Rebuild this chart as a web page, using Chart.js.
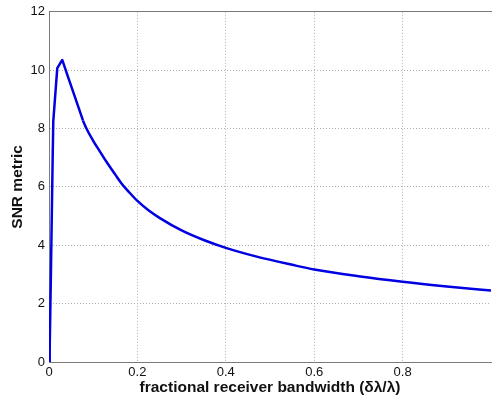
<!DOCTYPE html>
<html>
<head>
<meta charset="utf-8">
<script src="https://cdn.jsdelivr.net/npm/chart.js@4.4.0/dist/chart.umd.min.js"></script>
<style>
  html, body { margin: 0; padding: 0; background: #fff; }
  #wrap { width: 494px; height: 400px; }
</style>
</head>
<body>
<div id="wrap"><canvas id="snrChart" width="494" height="400"></canvas></div>
<script>
// values: sharp rise and peak drawn with straight segments
const riseBandwidth = [0, 0.0016, 0.0045, 0.0083, 0.0097, 0.0187, 0.030, 0.043, 0.058, 0.077];
const riseSnr = [0, 0.5, 3.2, 7.0, 8.25, 10.07, 10.35, 9.77, 9.11, 8.27];
// smooth decaying tail
const tailBandwidth = [0.077, 0.085, 0.10, 0.115, 0.13, 0.15, 0.165, 0.18, 0.20, 0.225, 0.25,
  0.30, 0.35, 0.40, 0.47, 0.55, 0.60, 0.70, 0.80, 0.90, 1.0];
const tailSnr = [8.27, 7.99, 7.58, 7.22, 6.86, 6.42, 6.1, 5.84, 5.52, 5.2, 4.94,
  4.51, 4.18, 3.91, 3.61, 3.33, 3.17, 2.94, 2.75, 2.59, 2.45];
const xTicks = [0, 0.2, 0.4, 0.6, 0.8, 1];
const yTicks = [0, 2, 4, 6, 8, 10, 12];

function toPoints(xs, ys) {
  return xs.map(function(x, i) { return { x: x, y: ys[i] }; });
}

const lineColor = 'rgb(0, 0, 225)';
const tickFont = { family: 'Liberation Sans, Arial, sans-serif', size: 13 };
const titleFont = { family: 'Liberation Sans, Arial, sans-serif', size: 15.5, weight: 'bold' };
const axisGrey = '#7a7a7a';
const gridGrey = '#b0b0b0';

const ctx = document.getElementById('snrChart').getContext('2d');
new Chart(ctx, {
  type: 'scatter',
  data: {
    datasets: [{
      data: toPoints(riseBandwidth, riseSnr),
      showLine: true,
      borderColor: lineColor,
      borderWidth: 2.5,
      borderJoinStyle: 'round',
      pointRadius: 0,
      tension: 0
    }, {
      data: toPoints(tailBandwidth, tailSnr),
      showLine: true,
      borderColor: lineColor,
      borderWidth: 2.5,
      pointRadius: 0,
      cubicInterpolationMode: 'monotone'
    }]
  },
  options: {
    responsive: false,
    animation: false,
    layout: { padding: 0 },
    plugins: { legend: { display: false }, tooltip: { enabled: false } },
    scales: {
      x: {
        type: 'linear',
        min: 0,
        max: 1,
        afterBuildTicks: function(scale) {
          scale.ticks = xTicks.map(function(v) { return { value: v }; });
        },
        afterFit: function(scale) { scale.height = 38; },
        grid: {
          drawTicks: false,
          color: function(c) { return c.tick && c.tick.value === 1 ? 'rgba(0,0,0,0)' : gridGrey; }
        },
        border: { color: axisGrey, width: 1, dash: [1, 2] },
        ticks: {
          font: tickFont,
          color: '#111',
          padding: 3,
          maxRotation: 0,
          callback: function(v) { return v === 1 ? '' : String(v); }
        },
        title: {
          display: true,
          text: 'fractional receiver bandwidth (δλ/λ)',
          font: titleFont,
          color: '#111',
          padding: { top: 0, bottom: 3 }
        }
      },
      xTop: {
        type: 'linear',
        position: 'top',
        min: 0,
        max: 1,
        afterFit: function(scale) { scale.height = 10; },
        grid: { display: false, drawTicks: false },
        border: { display: true, color: axisGrey, width: 1 },
        ticks: { display: false }
      },
      y: {
        type: 'linear',
        min: 0,
        max: 12,
        afterBuildTicks: function(scale) {
          scale.ticks = yTicks.map(function(v) { return { value: v }; });
        },
        afterFit: function(scale) { scale.width = 49; },
        grid: { drawTicks: false, color: gridGrey },
        border: { color: axisGrey, width: 1, dash: [1, 2] },
        ticks: { font: tickFont, color: '#111', padding: 4 },
        title: {
          display: true,
          text: 'SNR metric',
          font: titleFont,
          color: '#111',
          padding: { top: 8, bottom: 0 }
        }
      }
    }
  }
});
</script>
</body>
</html>
